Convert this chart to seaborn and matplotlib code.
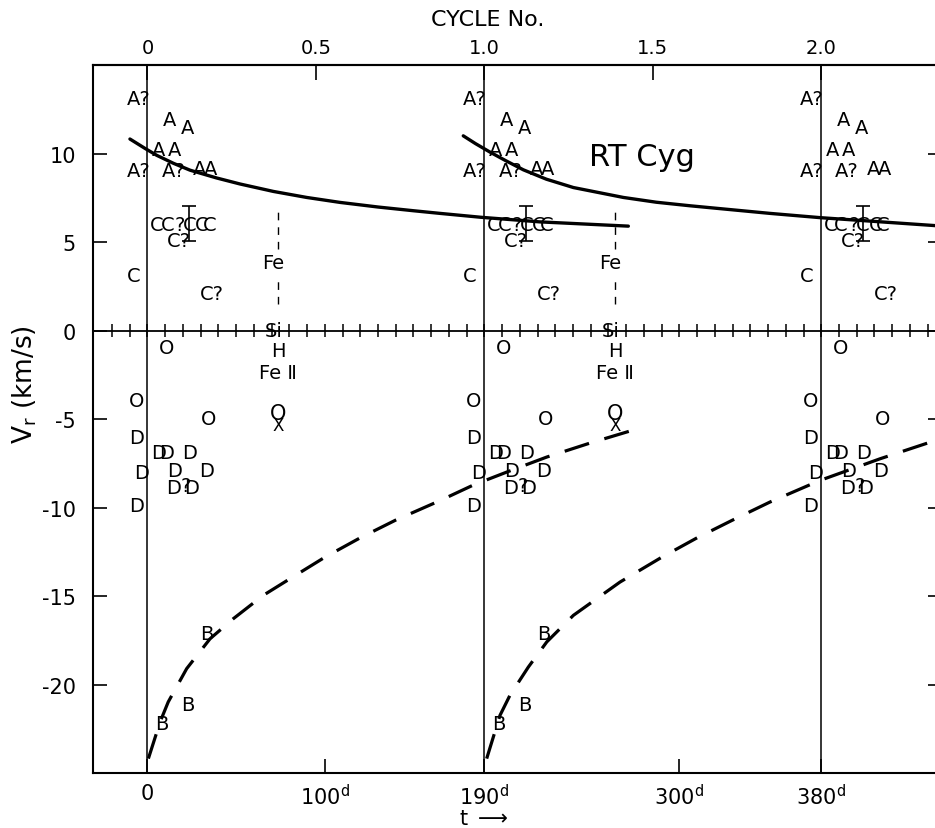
import numpy as np
import pandas as pd
import matplotlib
matplotlib.use("Agg")
import matplotlib.pyplot as plt
import seaborn as sns

sns.set_theme(style="white")
plt.rcParams['font.family'] = ['DejaVu Sans']
plt.rcParams['mathtext.fontset'] = 'dejavusans'

PERIOD = 190.0
cycle_starts = [0, 190, 380]

# ---- curves (t in days, Vr in km/s) ----
solid1_t = [-9.9, -1.4, 5.2, 14.6, 24.0, 39.0, 52.2, 71.0, 89.8, 108.6, 130, 150, 165.0, 188.1, 221.4, 271.2]
solid1_v = [10.82, 10.29, 9.90, 9.45, 9.06, 8.62, 8.28, 7.86, 7.52, 7.24, 6.98, 6.77, 6.62, 6.40, 6.14, 5.90]
solid2_t = [178.1, 185.0, 193.2, 202.0, 212.0, 225.0, 240.2, 268.4, 287.0, 306.0, 351.1, 379.3, 444.2, 452.0]
solid2_v = [11.0, 10.56, 10.08, 9.60, 9.08, 8.55, 8.08, 7.52, 7.25, 7.05, 6.62, 6.38, 5.93, 5.88]

dash1_t = [0.5, 7.1, 11.7, 22.1, 35.3, 48.4, 65.3, 80.4, 100, 120, 140, 165.0, 183.8, 202.6, 225.2, 249.6, 277.8]
dash1_v = [-24.17, -22.1, -20.97, -19.09, -17.4, -16.27, -14.95, -14.01, -12.8, -11.7, -10.7, -9.6, -8.72, -7.99, -7.14, -6.35, -5.5]
dash2_t = [191.3, 198.8, 204.4, 214.8, 225.2, 240.2, 266.5, 290, 310, 330, 351.1, 379.3, 413.1, 444.2, 452.0]
dash2_v = [-24.17, -21.73, -20.6, -19.0, -17.58, -16.08, -14.2, -12.8, -11.7, -10.7, -9.68, -8.46, -7.24, -6.21, -6.0]

# ---- letter symbols (phase in days from cycle start, Vr) ----
A_t = [12.7, 22.7, 6.1, 15.5, 29.6, 35.6]
A_v = [11.95, 11.48, 10.25, 10.25, 9.13, 9.13]
Aq_t = [-5.2, -5.2, 14.6]
Aq_v = [13.08, 9.03, 9.03]
C_t = [5.2, 11.2, 23.6, 30.5, 34.9, -8.0]
C_v = [6.02, 6.02, 6.02, 6.02, 6.02, 3.1]
Cq_t = [17.9, 36.2]
Cq_v = [5.08, 2.07]
Q_t = [18.3, 21.7]
Q_v = [6.02, -8.75]
D_t = [-6.1, 6.1, 10.8, 23.6, -3.3, 15.5, 33.4, 14.6, 24.9, -6.1]
D_v = [-6.02, -6.86, -6.86, -6.86, -7.99, -7.9, -7.9, -8.84, -8.84, -9.88]
O_t = [10.8, -6.1, 34.3]
O_v = [-0.94, -3.95, -4.98]
B_t = [33.4, 23.0, 8.0]
B_v = [-17.12, -21.12, -22.2]
B_cycles = [0, 190]

err_t = 23.6
err_lo, err_c, err_hi = 5.05, 6.02, 7.05

# line identifications
fe_line_t = 73.5
fe_line_upper = [4.6, 7.0]
fe_line_lower = [1.5, 3.1]
line_labels = ["Fe", "Si", "H", "Fe Ⅱ"]
line_label_t = [71.0, 71.0, 73.8, 73.8]
line_label_v = [3.86, 0.0, -1.13, -2.35]
ox_t = 73.8
ox_v = [-4.66, -5.32]
line_cycles = [0, 190]

yticks = [-20, -15, -10, -5, 0, 5, 10]
ytick_labels = ["-20", "-15", "-10", "-5", "0", "5", "10"]
xticks = [0, 100, 190, 300, 380]
xtick_labels = ["0", "100$^{\\rm d}$", "190$^{\\rm d}$", "300$^{\\rm d}$", "380$^{\\rm d}$"]
cycle_ticks = [0, 0.5, 1.0, 1.5, 2.0]
cycle_labels = ["0", "0.5", "1.0", "1.5", "2.0"]

W, H = 935, 829
fig = plt.figure(figsize=(W / 100, H / 100), dpi=100)
left_px, right_px, top_px, bot_px = 92.7, 942.0, 66.0, 774.3
ax = fig.add_axes([left_px / W, 1 - bot_px / H, (right_px - left_px) / W, (bot_px - top_px) / H])
ax.set_facecolor("white")
ax.set_xlim(-30.9, 448.1)
ax.set_ylim(-25, 15)

k = "black"
# vertical cycle lines
for c in cycle_starts:
    ax.axvline(c, color=k, lw=1.1, zorder=1)
# zero ruler
ax.axhline(0, color=k, lw=1.3, zorder=1)
ruler = np.arange(-20, 450, 10)
ax.vlines(ruler, -0.37, 0.37, color=k, lw=1.1, zorder=1)

# curves
sns.lineplot(x=solid1_t, y=solid1_v, ax=ax, color=k, lw=2.4, sort=False, estimator=None)
sns.lineplot(x=solid2_t, y=solid2_v, ax=ax, color=k, lw=2.4, sort=False, estimator=None)
l1 = sns.lineplot(x=dash1_t, y=dash1_v, ax=ax, color=k, lw=2.3, sort=False, estimator=None).lines[-1]
l1.set_dashes((8, 5))
l2 = sns.lineplot(x=dash2_t, y=dash2_v, ax=ax, color=k, lw=2.3, sort=False, estimator=None).lines[-1]
l2.set_dashes((8, 5))

fs = 14

def put(ts, vs, s, cycles, size=fs):
    for c in cycles:
        for t, v in zip(ts, vs):
            ax.text(t + c, v, s, ha="center", va="center", fontsize=size, color=k,
                    clip_on=True, zorder=3)

put(A_t, A_v, "A", cycle_starts)
put(Aq_t, Aq_v, "A?", cycle_starts)
put(C_t, C_v, "C", cycle_starts)
put(Cq_t, Cq_v, "C?", cycle_starts)
put(Q_t, Q_v, "?", cycle_starts)
put(D_t, D_v, "D", cycle_starts)
put(O_t, O_v, "O", cycle_starts)
put(B_t, B_v, "B", B_cycles)

for c in cycle_starts:
    ax.errorbar([err_t + c], [err_c], yerr=[[err_c - err_lo], [err_hi - err_c]],
                fmt="none", ecolor=k, elinewidth=1.2, capsize=5, capthick=1.2, clip_on=True)

for c in line_cycles:
    ax.vlines([fe_line_t + c] * 2, [fe_line_upper[0], fe_line_lower[0]],
              [fe_line_upper[1], fe_line_lower[1]], color=k, lw=1.0,
              linestyles=[(0, (5.5, 5))])
    for s, t, v in zip(line_labels, line_label_t, line_label_v):
        ax.text(t + c, v, s, ha="center", va="center", fontsize=fs, color=k,
                clip_on=True, zorder=3)
    ax.text(ox_t + c, ox_v[0], "O", ha="center", va="center", fontsize=fs + 1, color=k, clip_on=True)
    ax.text(ox_t + c, ox_v[1], "X", ha="center", va="center", fontsize=fs - 2, color=k, clip_on=True)

ax.text(279, 9.86, "RT Cyg", ha="center", va="center", fontsize=22, color=k)

# axes styling
for sp in ax.spines.values():
    sp.set_linewidth(1.5)
    sp.set_color(k)
ax.set_yticks(yticks)
ax.set_yticklabels(ytick_labels)
ax.set_xticks(xticks)
ax.set_xticklabels(xtick_labels)
ax.tick_params(axis="y", direction="in", length=10, width=1.2, left=True, right=True,
               labelsize=15, pad=12, colors=k)
ax.tick_params(axis="x", direction="in", length=10, width=1.2, bottom=True, top=False,
               labelsize=15, pad=7, colors=k)

sec = ax.secondary_xaxis("top", functions=(lambda t: t / PERIOD, lambda c: c * PERIOD))
sec.set_xticks(cycle_ticks)
sec.set_xticklabels(cycle_labels)
sec.tick_params(direction="in", length=11, width=1.2, labelsize=14, pad=6, colors=k)
sec.spines["top"].set_linewidth(1.5)

fig.text(488 / W, 1 - 20 / H, "CYCLE No.", ha="center", va="center", fontsize=16, color=k)
fig.text(484 / W, 1 - 819 / H, "t $\\longrightarrow$", ha="center", va="center", fontsize=15, color=k)
fig.text(25 / W, 1 - 385 / H, "V$_{\\rm r}$ (km/s)", ha="center", va="center", rotation=90,
         fontsize=19, color=k)

fig.savefig("out.png", dpi=100, facecolor="white")
